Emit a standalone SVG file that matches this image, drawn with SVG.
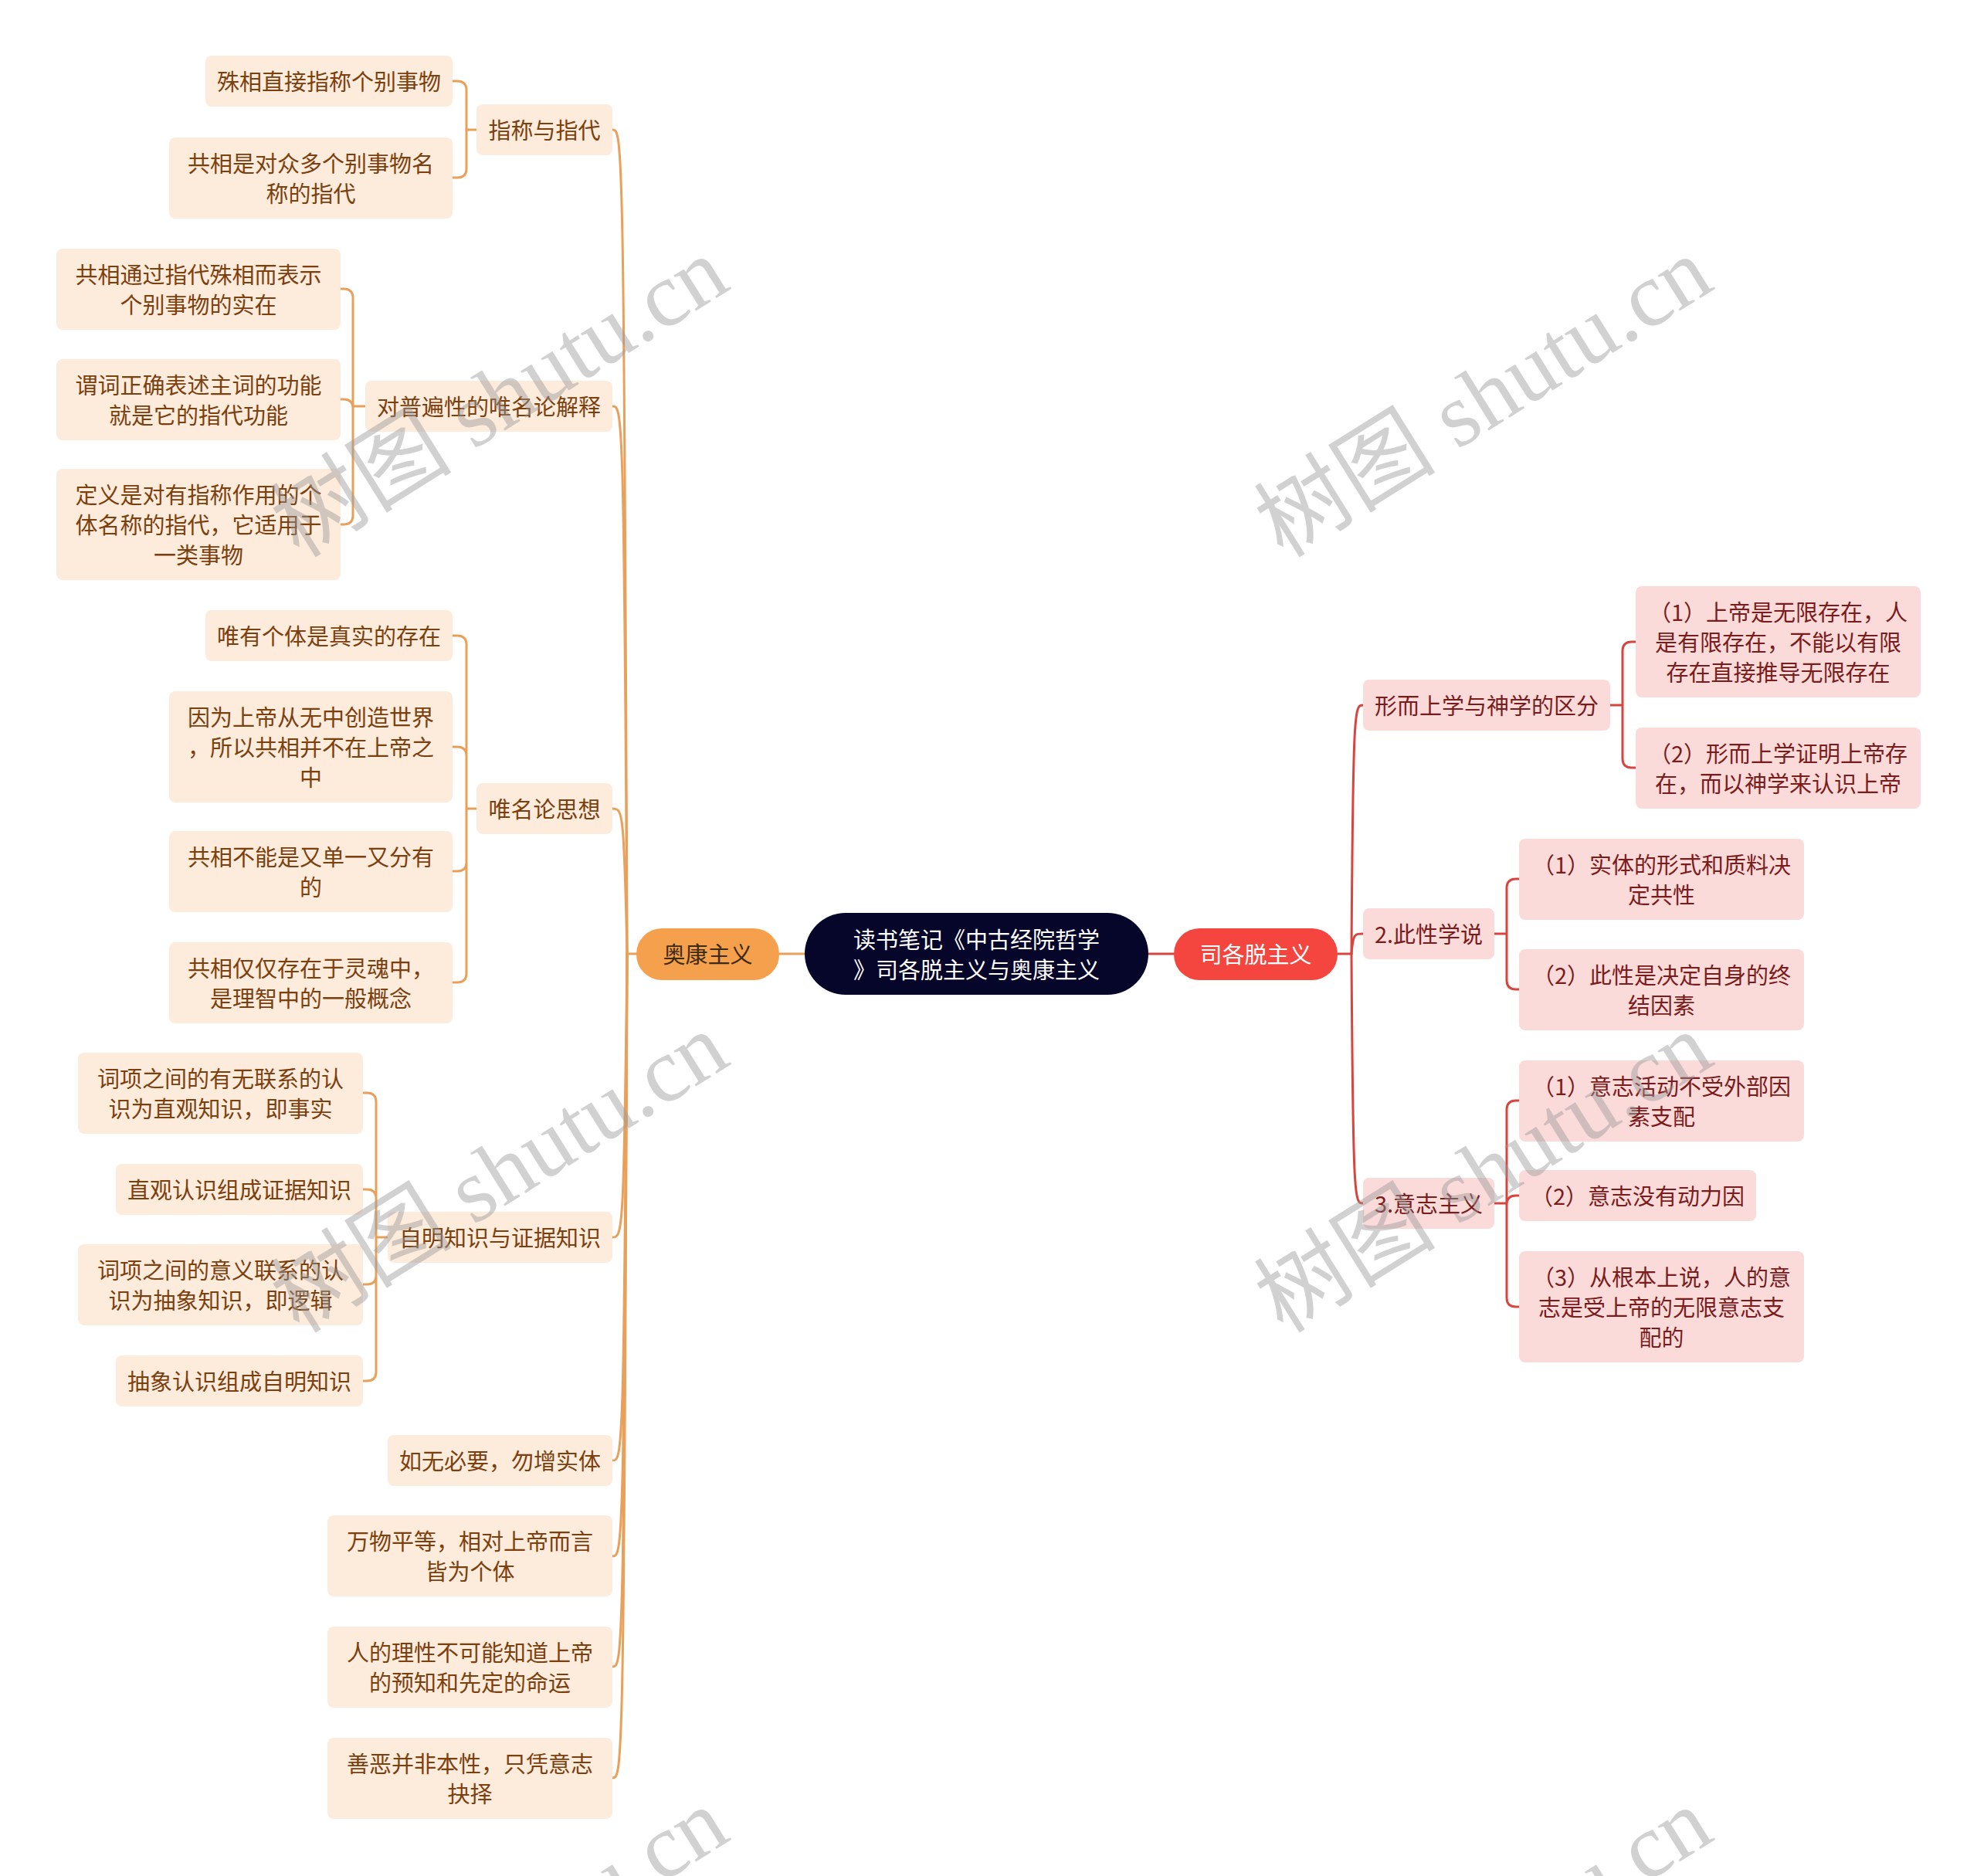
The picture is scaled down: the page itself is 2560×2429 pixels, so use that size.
<svg xmlns="http://www.w3.org/2000/svg" width="2560" height="2429" viewBox="0 0 2560 2429">
<style>
text{font-family:"Noto Sans CJK SC","Noto Sans",sans-serif;font-size:29px;text-anchor:middle}
.ln{fill:#fdebdc}
.lt{fill:#7b400e;transform:translate(0px,2px)}
.rn{fill:#fbdada}
.rt{fill:#7a1c1c;transform:translate(0px,2px)}
.nt{transform:translate(0px,2px)}
.co{fill:none;stroke:#e9a05a;stroke-width:3;stroke-linecap:round}
.cr{fill:none;stroke:#d8453f;stroke-width:3;stroke-linecap:round}
.wm{font-family:"Liberation Serif","Noto Sans CJK SC",serif;font-size:118px;fill:#9a9a9a;fill-opacity:0.45;text-anchor:middle}
</style>
<rect width="2560" height="2429" fill="#ffffff"/>
<g id="connectors">
<path class="co" d="M1009,1235 L1042,1235"/>
<path class="cr" d="M1487,1235 L1520,1235"/>
<path class="co" d="M824,1235 L812,1235"/>
<path class="co" d="M812,1235 C808,168 806,168 793,168"/>
<path class="co" d="M812,1235 C808,526 806,526 793,526"/>
<path class="co" d="M812,1235 C808,1047 806,1047 793,1047"/>
<path class="co" d="M812,1235 C808,1602 806,1602 793,1602"/>
<path class="co" d="M812,1235 C808,1891 806,1891 793,1891"/>
<path class="co" d="M812,1235 C808,2015 806,2015 793,2015"/>
<path class="co" d="M812,1235 C808,2158 806,2158 793,2158"/>
<path class="co" d="M812,1235 C808,2302 806,2302 793,2302"/>
<path class="cr" d="M1732,1235 L1750,1235"/>
<path class="cr" d="M1750,1235 C1752,913 1754,913 1765,913"/>
<path class="cr" d="M1750,1235 C1752,1209 1754,1209 1765,1209"/>
<path class="cr" d="M1750,1235 C1752,1558 1754,1558 1765,1558"/>
<path class="co" d="M617,168 L604,168 M604,168 L604,117 Q604,105 592,105 L586,105 M604,168 L604,218 Q604,230 592,230 L586,230"/>
<path class="co" d="M473,526 L457,526 M457,526 L457,386 Q457,374 445,374 L441,374 M457,526 L457,529 Q457,517 445,517 L441,517 M457,526 L457,667 Q457,679 445,679 L441,679"/>
<path class="co" d="M617,1047 L604,1047 M604,1047 L604,835 Q604,823 592,823 L586,823 M604,1047 L604,979 Q604,967 592,967 L586,967 M604,1047 L604,1116 Q604,1128 592,1128 L586,1128 M604,1047 L604,1260 Q604,1272 592,1272 L586,1272"/>
<path class="co" d="M503,1602 L487,1602 M487,1602 L487,1427 Q487,1415 475,1415 L470,1415 M487,1602 L487,1552 Q487,1540 475,1540 L470,1540 M487,1602 L487,1651 Q487,1663 475,1663 L470,1663 M487,1602 L487,1776 Q487,1788 475,1788 L470,1788"/>
<path class="cr" d="M2085,913 L2101,913 M2101,913 L2101,843 Q2101,831 2113,831 L2118,831 M2101,913 L2101,982 Q2101,994 2113,994 L2118,994"/>
<path class="cr" d="M1935,1209 L1951,1209 M1951,1209 L1951,1150 Q1951,1138 1963,1138 L1967,1138 M1951,1209 L1951,1269 Q1951,1281 1963,1281 L1967,1281"/>
<path class="cr" d="M1935,1558 L1951,1558 M1951,1558 L1951,1437 Q1951,1425 1963,1425 L1967,1425 M1951,1558 L1951,1560 Q1951,1548 1963,1548 L1967,1548 M1951,1558 L1951,1680 Q1951,1692 1963,1692 L1967,1692"/>
</g>
<g id="root"><rect x="1042" y="1182" width="445" height="106" rx="53" fill="#06062a"/><text class="nt" x="1264.5" y="1226" fill="#ffffff">读书笔记《中古经院哲学</text><text class="nt" x="1264.5" y="1265" fill="#ffffff">》司各脱主义与奥康主义</text></g>
<g id="ockham"><rect x="824" y="1202" width="185" height="67" rx="33" fill="#f4a04c"/><text class="nt" x="916.5" y="1245" fill="#3d2a12">奥康主义</text></g>
<g id="scotus"><rect x="1520" y="1202" width="212" height="67" rx="33" fill="#f4463f"/><text class="nt" x="1626" y="1245" fill="#ffffff">司各脱主义</text></g>
<g id="a1"><rect class="ln" x="617" y="135" width="176" height="66" rx="8"/><text class="lt" x="705" y="178">指称与指代</text></g>
<g id="a2"><rect class="ln" x="473" y="493" width="320" height="66" rx="8"/><text class="lt" x="633" y="536">对普遍性的唯名论解释</text></g>
<g id="a3"><rect class="ln" x="617" y="1014" width="176" height="66" rx="8"/><text class="lt" x="705" y="1057">唯名论思想</text></g>
<g id="a4"><rect class="ln" x="502" y="1569" width="291" height="66" rx="8"/><text class="lt" x="647.5" y="1612">自明知识与证据知识</text></g>
<g id="a5"><rect class="ln" x="502" y="1858" width="291" height="66" rx="8"/><text class="lt" x="647.5" y="1901">如无必要，勿增实体</text></g>
<g id="a6"><rect class="ln" x="424" y="1962" width="369" height="105" rx="8"/><text class="lt" x="608.5" y="2005">万物平等，相对上帝而言</text><text class="lt" x="608.5" y="2044">皆为个体</text></g>
<g id="a7"><rect class="ln" x="424" y="2106" width="369" height="105" rx="8"/><text class="lt" x="608.5" y="2149">人的理性不可能知道上帝</text><text class="lt" x="608.5" y="2188">的预知和先定的命运</text></g>
<g id="a8"><rect class="ln" x="424" y="2250" width="369" height="105" rx="8"/><text class="lt" x="608.5" y="2293">善恶并非本性，只凭意志</text><text class="lt" x="608.5" y="2332">抉择</text></g>
<g id="b1"><rect class="ln" x="266" y="72" width="320" height="66" rx="8"/><text class="lt" x="426" y="115">殊相直接指称个别事物</text></g>
<g id="b2"><rect class="ln" x="219" y="178" width="367" height="105" rx="8"/><text class="lt" x="402.5" y="221">共相是对众多个别事物名</text><text class="lt" x="402.5" y="260">称的指代</text></g>
<g id="c1"><rect class="ln" x="73" y="322" width="368" height="105" rx="8"/><text class="lt" x="257" y="365">共相通过指代殊相而表示</text><text class="lt" x="257" y="404">个别事物的实在</text></g>
<g id="c2"><rect class="ln" x="73" y="465" width="368" height="105" rx="8"/><text class="lt" x="257" y="508">谓词正确表述主词的功能</text><text class="lt" x="257" y="547">就是它的指代功能</text></g>
<g id="c3"><rect class="ln" x="73" y="607" width="368" height="144" rx="8"/><text class="lt" x="257" y="650">定义是对有指称作用的个</text><text class="lt" x="257" y="689">体名称的指代，它适用于</text><text class="lt" x="257" y="728">一类事物</text></g>
<g id="d1"><rect class="ln" x="266" y="790" width="320" height="66" rx="8"/><text class="lt" x="426" y="833">唯有个体是真实的存在</text></g>
<g id="d2"><rect class="ln" x="219" y="895" width="367" height="144" rx="8"/><text class="lt" x="402.5" y="938">因为上帝从无中创造世界</text><text class="lt" x="402.5" y="977">，所以共相并不在上帝之</text><text class="lt" x="402.5" y="1016">中</text></g>
<g id="d3"><rect class="ln" x="219" y="1076" width="367" height="105" rx="8"/><text class="lt" x="402.5" y="1119">共相不能是又单一又分有</text><text class="lt" x="402.5" y="1158">的</text></g>
<g id="d4"><rect class="ln" x="219" y="1220" width="367" height="105" rx="8"/><text class="lt" x="402.5" y="1263">共相仅仅存在于灵魂中，</text><text class="lt" x="402.5" y="1302">是理智中的一般概念</text></g>
<g id="e1"><rect class="ln" x="101" y="1363" width="369" height="105" rx="8"/><text class="lt" x="285.5" y="1406">词项之间的有无联系的认</text><text class="lt" x="285.5" y="1445">识为直观知识，即事实</text></g>
<g id="e2"><rect class="ln" x="150" y="1507" width="320" height="66" rx="8"/><text class="lt" x="310" y="1550">直观认识组成证据知识</text></g>
<g id="e3"><rect class="ln" x="101" y="1611" width="369" height="105" rx="8"/><text class="lt" x="285.5" y="1654">词项之间的意义联系的认</text><text class="lt" x="285.5" y="1693">识为抽象知识，即逻辑</text></g>
<g id="e4"><rect class="ln" x="150" y="1755" width="320" height="66" rx="8"/><text class="lt" x="310" y="1798">抽象认识组成自明知识</text></g>
<g id="f1"><rect class="rn" x="1765" y="880" width="320" height="66" rx="8"/><text class="rt" x="1925" y="923">形而上学与神学的区分</text></g>
<g id="f2"><rect class="rn" x="1765" y="1176" width="170" height="66" rx="8"/><text class="rt" x="1850" y="1219">2.此性学说</text></g>
<g id="f3"><rect class="rn" x="1765" y="1525" width="170" height="66" rx="8"/><text class="rt" x="1850" y="1568">3.意志主义</text></g>
<g id="g1"><rect class="rn" x="2118" y="759" width="369" height="144" rx="8"/><text class="rt" x="2302.5" y="802">（1）上帝是无限存在，人</text><text class="rt" x="2302.5" y="841">是有限存在，不能以有限</text><text class="rt" x="2302.5" y="880">存在直接推导无限存在</text></g>
<g id="g2"><rect class="rn" x="2118" y="942" width="369" height="105" rx="8"/><text class="rt" x="2302.5" y="985">（2）形而上学证明上帝存</text><text class="rt" x="2302.5" y="1024">在，而以神学来认识上帝</text></g>
<g id="h1"><rect class="rn" x="1967" y="1086" width="369" height="105" rx="8"/><text class="rt" x="2151.5" y="1129">（1）实体的形式和质料决</text><text class="rt" x="2151.5" y="1168">定共性</text></g>
<g id="h2"><rect class="rn" x="1967" y="1229" width="369" height="105" rx="8"/><text class="rt" x="2151.5" y="1272">（2）此性是决定自身的终</text><text class="rt" x="2151.5" y="1311">结因素</text></g>
<g id="i1"><rect class="rn" x="1967" y="1373" width="369" height="105" rx="8"/><text class="rt" x="2151.5" y="1416">（1）意志活动不受外部因</text><text class="rt" x="2151.5" y="1455">素支配</text></g>
<g id="i2"><rect class="rn" x="1967" y="1515" width="307" height="66" rx="8"/><text class="rt" x="2120.5" y="1558">（2）意志没有动力因</text></g>
<g id="i3"><rect class="rn" x="1967" y="1620" width="369" height="144" rx="8"/><text class="rt" x="2151.5" y="1663">（3）从根本上说，人的意</text><text class="rt" x="2151.5" y="1702">志是受上帝的无限意志支</text><text class="rt" x="2151.5" y="1741">配的</text></g>
<g id="watermarks">
<text class="wm" transform="translate(648,516) rotate(-32)" y="38">树图 shutu.cn</text>
<text class="wm" transform="translate(1922,516) rotate(-32)" y="38">树图 shutu.cn</text>
<text class="wm" transform="translate(648,1520) rotate(-32)" y="38">树图 shutu.cn</text>
<text class="wm" transform="translate(1922,1520) rotate(-32)" y="38">树图 shutu.cn</text>
<text class="wm" transform="translate(648,2524) rotate(-32)" y="38">树图 shutu.cn</text>
<text class="wm" transform="translate(1922,2524) rotate(-32)" y="38">树图 shutu.cn</text>
</g>
</svg>
